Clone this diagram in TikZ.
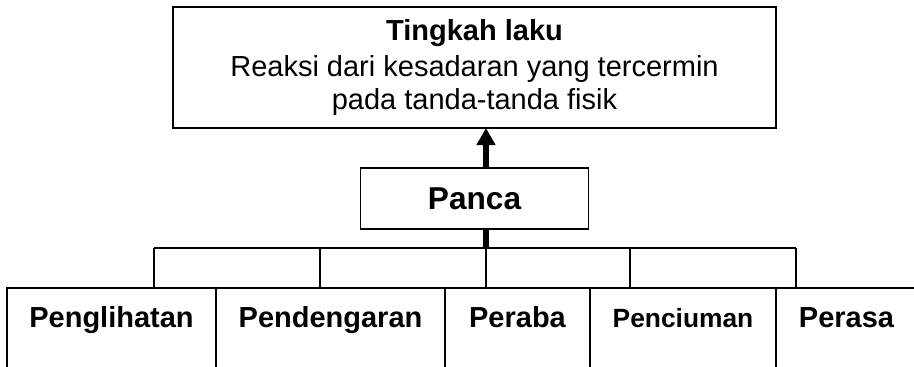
\documentclass[tikz,border=0pt]{standalone}
\usepackage{fontspec}
\setmainfont{Liberation Sans}
\usepackage{tikz}
\usetikzlibrary{arrows.meta, positioning}

\begin{document}
\begin{tikzpicture}[
    box/.style={rectangle, draw=black, line width=0.9pt, outer sep=0pt, align=center},
    cell/.style={rectangle, draw=black, line width=0.9pt, outer sep=0pt, inner xsep=0pt, inner ysep=0pt,
                 text height=0.78cm, text depth=2cm, font=\fontsize{16.5}{19.8}\selectfont\bfseries},
    link/.style={line width=0.9pt},
    stem/.style={line width=3pt},
    uparrow/.style={-{Triangle[length=0.34cm, width=0.36cm]}, line width=3pt},
]

\useasboundingbox (0,0) rectangle (18.28,7.32);
\clip (0,0) rectangle (18.28,7.32);

% Top and middle boxes
\node[box, minimum width=12.06cm, minimum height=2.42cm, font=\fontsize{16.5}{18.8}\selectfont] (tingkah) at (9.49,5.97)
    {{\bfseries Tingkah laku}\\[1.7pt]
     Reaksi dari kesadaran yang tercermin\\
     pada tanda-tanda fisik};
\node[box, minimum width=4.56cm, minimum height=1.22cm, font=\fontsize{18}{21.6}\selectfont\bfseries,
      below=0.8cm of tingkah] (panca) {Panca};

% Senses
\node[cell, minimum width=4.18cm, anchor=north west] (lihat) at (0.14,1.56) {Penglihatan};
\node[cell, minimum width=4.58cm, right=0pt of lihat] (dengar) {Pendengaran};
\node[cell, minimum width=2.90cm, right=0pt of dengar] (raba) {Peraba};
\node[cell, minimum width=3.72cm, right=0pt of raba, font=\fontsize{15}{18}\selectfont\bfseries] (cium) {Penciuman};
\node[cell, minimum width=2.82cm, right=0pt of cium] (rasa) {Perasa};

% Bus
\coordinate (b1) at (3.08,2.36);
\coordinate (b2) at (6.40,2.36);
\coordinate (hub) at (9.72,2.36);
\coordinate (b4) at (12.60,2.36);
\coordinate (b5) at (15.92,2.36);
\draw[link] (b1) -- (b5);
\foreach \b in {b1,b2,hub,b4,b5}
    \draw[link] (\b) -- (\b |- lihat.north);

% Arrows
\draw[stem] (panca.south -| hub) -- (hub);
\draw[uparrow] (panca.north -| hub) -- (tingkah.south -| hub);

\end{tikzpicture}
\end{document}
